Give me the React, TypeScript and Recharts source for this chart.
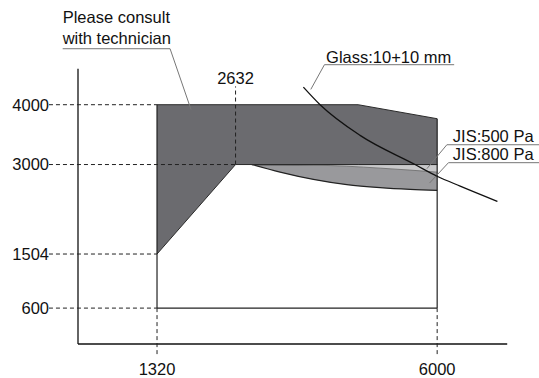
import React from "react";
import {
  ComposedChart,
  Area,
  Line,
  XAxis,
  YAxis,
  ReferenceLine,
  ReferenceDot,
} from "recharts";

// ---- data ----
const xTicks = [1320, 6000];
const yTicks = [600, 1504, 3000, 4000];
const markX = 2632;
const rectBottom = 600;

const zoneX = [1320, 2632, 4680, 6000];
const zoneTop = [4000, 4000, 4000, 3766];
const zoneBottom = [1504, 3000, 3000, 3000];

const jisX = [2903, 3376, 3932, 4491, 5047, 5549, 6000];
const jis800 = [3000, 2873, 2751, 2663, 2613, 2584, 2567];
const jis500 = [3000, 2997, 2990, 2972, 2940, 2907, 2873];
const jisTop = [3000, 3000, 3000, 3000, 3000, 3000, 3000];

const glassX = [3765, 4044, 4712, 5631, 6000, 6384, 7007];
const glassY = [4294, 4000, 3487, 3000, 2804, 2639, 2384];

const labels = [
  { x: -256, y: 5359, text: "Please consult", anchor: "start" },
  { x: -256, y: 5008, text: "with technician", anchor: "start" },
  { x: 2632, y: 4339, text: "2632", anchor: "middle" },
  { x: 4145, y: 4695, text: "Glass:10+10 mm", anchor: "start" },
  { x: 6262, y: 3375, text: "JIS:500 Pa", anchor: "start" },
  { x: 6262, y: 3081, text: "JIS:800 Pa", anchor: "start" },
];

const leaders = [
  [[-256, 4936], [1538, 4936], [1889, 3917]],
  [[6284, 4669], [4117, 4669], [3889, 4256]],
  [[7705, 3331], [6162, 3331], [5828, 2930]],
  [[7705, 3031], [6189, 3031], [5872, 2690]],
];

const X_DOMAIN = [0, 7200];
const Y_DOMAIN = [0, 5600];
const AXIS_X_END = 7170;
const AXIS_Y_END = 4600;
const TICK_LEAD_X = -485;
const TICK_LEAD_Y = -190;
const MARK_TOP = 4306;

// ---- derived tables ----
const zoneData = zoneX.map((x, i) => ({ x, range: [zoneBottom[i], zoneTop[i]] }));
const band800 = jisX.map((x, i) => ({ x, range: [jis800[i], jisTop[i]] }));
const band500 = jisX.map((x, i) => ({ x, range: [jis500[i], jisTop[i]] }));
const glassData = glassX.map((x, i) => ({ x, y: glassY[i] }));

const FONT = "'Liberation Sans', Arial, Helvetica, sans-serif";
const FS = 16.5;

const makeLabel = (text: string, anchor: string) => (props: any) => {
  const vb = props.viewBox || {};
  const x = (vb.x ?? 0) + (vb.width ?? 0) / 2;
  const y = (vb.y ?? 0) + (vb.height ?? 0) / 2;
  return (
    <text
      x={x}
      y={y}
      textAnchor={anchor}
      fontFamily={FONT}
      fontSize={FS}
      fill="#111"
    >
      {text}
    </text>
  );
};

export default function App() {
  return (
    <div
      style={{
        position: "absolute",
        left: 0,
        top: 0,
        width: 539,
        height: 378,
        overflow: "hidden",
        background: "#fff",
      }}
    >
      <ComposedChart
        width={539}
        height={378}
        margin={{ top: 9, right: 30, bottom: 0, left: 0 }}
      >
        <XAxis
          type="number"
          dataKey="x"
          domain={X_DOMAIN}
          ticks={xTicks}
          axisLine={false}
          tickLine={false}
          tickSize={0}
          tickMargin={19}
          height={34}
          tick={{ fontFamily: FONT, fontSize: FS, fill: "#111" }}
        />
        <YAxis
          type="number"
          domain={Y_DOMAIN}
          ticks={yTicks}
          axisLine={false}
          tickLine={false}
          tickSize={0}
          tickMargin={29}
          width={78}
          tick={{ fontFamily: FONT, fontSize: FS, fill: "#111" }}
        />
        <Area
          data={band800}
          dataKey="range"
          type="monotone"
          fill="#99999c"
          fillOpacity={1}
          stroke="#222"
          strokeWidth={1.2}
          isAnimationActive={false}
        />
        <Area
          data={band500}
          dataKey="range"
          type="monotone"
          fill="#c9c9cb"
          fillOpacity={1}
          stroke="#6a6a6a"
          strokeWidth={0.8}
          isAnimationActive={false}
        />
        <Area
          data={zoneData}
          dataKey="range"
          type="linear"
          fill="#6b6b6f"
          fillOpacity={1}
          stroke="#2a2a2a"
          strokeWidth={1}
          isAnimationActive={false}
        />
        {/* rectangle edges */}
        <ReferenceLine
          segment={[{ x: xTicks[0], y: rectBottom }, { x: xTicks[1], y: rectBottom }]}
          stroke="#222"
          strokeWidth={1.2}
          ifOverflow="visible"
        />
        <ReferenceLine
          segment={[{ x: xTicks[0], y: rectBottom }, { x: zoneX[0], y: zoneTop[0] }]}
          stroke="#222"
          strokeWidth={1.2}
          ifOverflow="visible"
        />
        <ReferenceLine
          segment={[{ x: xTicks[1], y: rectBottom }, { x: zoneX[3], y: zoneTop[3] }]}
          stroke="#222"
          strokeWidth={1.2}
          ifOverflow="visible"
        />
        {/* axes */}
        <ReferenceLine
          segment={[{ x: 0, y: 0 }, { x: AXIS_X_END, y: 0 }]}
          stroke="#111"
          strokeWidth={1.3}
          ifOverflow="visible"
        />
        <ReferenceLine
          segment={[{ x: 0, y: 0 }, { x: 0, y: AXIS_Y_END }]}
          stroke="#111"
          strokeWidth={1.3}
          ifOverflow="visible"
        />
        {/* dashed tick guides */}
        {yTicks.map((v) => (
          <ReferenceLine
            key={"y" + v}
            segment={[{ x: TICK_LEAD_X, y: v }, { x: v === 3000 ? markX : xTicks[0], y: v }]}
            stroke="#222"
            strokeWidth={1}
            strokeDasharray="4 3"
            ifOverflow="visible"
          />
        ))}
        {xTicks.map((v) => (
          <ReferenceLine
            key={"x" + v}
            segment={[{ x: v, y: rectBottom }, { x: v, y: TICK_LEAD_Y }]}
            stroke="#222"
            strokeWidth={1}
            strokeDasharray="4 3"
            ifOverflow="visible"
          />
        ))}
        <ReferenceLine
          segment={[{ x: markX, y: 3000 }, { x: markX, y: MARK_TOP }]}
          stroke="#222"
          strokeWidth={1}
          strokeDasharray="4 3"
          ifOverflow="visible"
        />
        {/* leaders */}
        {leaders.map((pts, i) => (
          <React.Fragment key={"l" + i}>
            <ReferenceLine
              segment={[{ x: pts[0][0], y: pts[0][1] }, { x: pts[1][0], y: pts[1][1] }]}
              stroke="#777"
              strokeWidth={1}
              ifOverflow="visible"
            />
            <ReferenceLine
              segment={[{ x: pts[1][0], y: pts[1][1] }, { x: pts[2][0], y: pts[2][1] }]}
              stroke="#777"
              strokeWidth={1}
              ifOverflow="visible"
            />
          </React.Fragment>
        ))}
        <Line
          data={glassData}
          dataKey="y"
          type="monotone"
          stroke="#111"
          strokeWidth={1.3}
          dot={false}
          isAnimationActive={false}
        />
        {labels.map((l, i) => (
          <ReferenceDot
            key={"t" + i}
            x={l.x}
            y={l.y}
            r={0}
            fill="none"
            stroke="none"
            ifOverflow="visible"
            label={{ content: makeLabel(l.text, l.anchor) }}
          />
        ))}
      </ComposedChart>
    </div>
  );
}
